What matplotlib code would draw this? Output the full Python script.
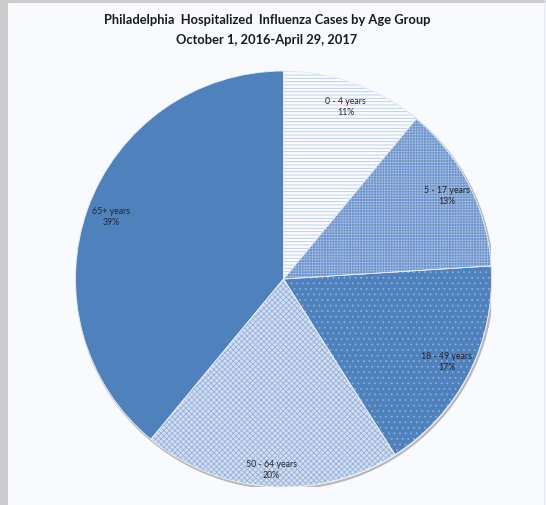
import matplotlib.pyplot as plt
from matplotlib.patches import Rectangle, Circle

groups = ['0 - 4 years', '5 - 17 years', '18 - 49 years', '50 - 64 years', '65+ years']
shares = [11, 13, 17, 20, 39]

# face colour, hatch, hatch colour for each slice (Excel pattern fills)
faces = ['#fbfcff', '#6890c8', '#4f81bd', '#d3dff1', '#4f81bd']
hatches = ['-----', '++++++', '...', 'xxxxxx', '']
hatch_cols = ['#b3c8e6', '#9db8e0', '#8aaedb', '#95b0da', '#4f81bd']

plt.rcParams['hatch.linewidth'] = 0.6
plt.rcParams['font.family'] = ['Lato', 'DejaVu Sans']

fig = plt.figure(figsize=(5.46, 5.05), dpi=100)
fig.patch.set_facecolor('#f9fafe')

# grey window frame (left and top)
fig.add_artist(Rectangle((0, 0), 8 / 546, 1, transform=fig.transFigure, color='#cccccc', lw=0))
fig.add_artist(Rectangle((0, 1 - 3 / 505), 1, 3 / 505, transform=fig.transFigure, color='#cccccc', lw=0))
fig.add_artist(Rectangle((544 / 546, 0), 1 / 546, 1, transform=fig.transFigure, color='#e4e6ee', lw=0))

cx, cy, r = 283.5, 279, 208
ax = fig.add_axes([(cx - r) / 546, (505 - cy - r) / 505, 2 * r / 546, 2 * r / 505])

# soft shadow around the rim
ax.add_patch(Circle((0.006, -0.008), 1.0, facecolor='none', edgecolor='#b8b8b8', lw=1.6, zorder=0))

labels = ['{}\n{}%'.format(g, s) for g, s in zip(groups, shares)]
wedges, texts = ax.pie(shares, labels=labels, startangle=90, counterclock=False,
                       labeldistance=0.88, radius=1.0,
                       textprops=dict(fontsize=6.3, color='#262626', ha='center', va='center',
                                      linespacing=1.35))
for w, fc, h, hc in zip(wedges, faces, hatches, hatch_cols):
    w.set_facecolor(fc)
    w.set_edgecolor(hc)
    w.set_hatch(h)
    w.set_linewidth(0)
    w.set_zorder(1)
for t in texts:
    t.set_zorder(3)
# the 50-64 label sits a little further out
x, y = texts[3].get_position()
texts[3].set_position((x * 0.92 / 0.88, y * 0.92 / 0.88))

# thin light borders between slices
borders, _ = ax.pie(shares, startangle=90, counterclock=False, radius=1.0,
                    wedgeprops=dict(facecolor='none', edgecolor='#e8eef8', linewidth=0.6))
for b in borders:
    b.set_zorder(2)

ax.set_xlim(-1, 1)
ax.set_ylim(-1, 1)
ax.set_aspect('equal')
ax.axis('off')

fig.text(267 / 546, 1 - 20 / 505, 'Philadelphia  Hospitalized  Influenza Cases by Age Group',
         ha='center', va='center', fontsize=9.3, fontweight='bold', color='#1a1a1a')
fig.text(267 / 546, 1 - 40 / 505, 'October 1, 2016-April 29, 2017',
         ha='center', va='center', fontsize=9.3, fontweight='bold', color='#1a1a1a')

plt.savefig('out.png', dpi=100, facecolor=fig.get_facecolor())
